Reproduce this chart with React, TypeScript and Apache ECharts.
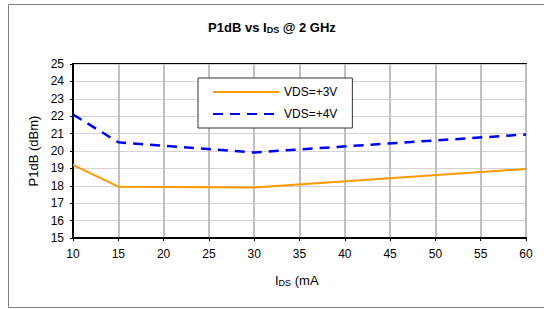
import React, { useEffect, useRef } from "react";
import * as echarts from "echarts";

const currents = [10, 15, 30, 60];
const vds3 = [19.2, 17.95, 17.9, 18.97];
const vds4 = [22.1, 20.5, 19.92, 20.95];
const seriesNames = ["VDS=+3V", "VDS=+4V"];

export default function App() {
  const ref = useRef<HTMLDivElement>(null);
  useEffect(() => {
    const chart = echarts.init(ref.current!, null, { renderer: "svg" });
    const font = "Liberation Sans, Arial, sans-serif";
    chart.setOption({
      animation: false,
      backgroundColor: "#fff",
      textStyle: { fontFamily: font },
      graphic: [
        {
          type: "rect",
          shape: { x: 8.5, y: 4.5, width: 560, height: 303 },
          style: { fill: "none", stroke: "#808080", lineWidth: 1 },
          z: 0,
        },
        {
          type: "text",
          left: "center",
          top: 19,
          style: {
            text: "{a|P1dB vs I}{b|DS}{a| @ 2 GHz}",
            rich: {
              a: { fontSize: 13, fontWeight: "bold", fontFamily: font, fill: "#000", verticalAlign: "bottom", lineHeight: 17 },
              b: { fontSize: 9, fontWeight: "bold", fontFamily: font, fill: "#000", verticalAlign: "bottom", lineHeight: 17, padding: [6, 0, 0, 0] },
            },
          },
        },
        {
          type: "text",
          left: 275,
          top: 272,
          style: {
            text: "{a|I}{b|DS}{a| (mA}",
            rich: {
              a: { fontSize: 13, fontFamily: font, fill: "#000", verticalAlign: "bottom", lineHeight: 17 },
              b: { fontSize: 9, fontFamily: font, fill: "#000", verticalAlign: "bottom", lineHeight: 17, padding: [6, 0, 0, 0] },
            },
          },
        },
      ],
      legend: {
        data: seriesNames,
        orient: "vertical",
        left: 198,
        top: 78,
        padding: [8, 15, 8, 14],
        itemGap: 10,
        itemWidth: 66,
        itemHeight: 12,
        itemStyle: { opacity: 0 },
        backgroundColor: "#fff",
        borderColor: "#333",
        borderWidth: 1,
        textStyle: { fontSize: 12, fontFamily: font, color: "#000" },
      },
      grid: {
        left: 73,
        right: 18,
        top: 64,
        bottom: 71,
        show: true,
        borderColor: "#000",
        borderWidth: 2,
        backgroundColor: "transparent",
      },
      xAxis: {
        type: "value",
        min: 10,
        max: 60,
        interval: 5,
        axisLine: { show: true, lineStyle: { color: "#000", width: 2 } },
        axisTick: { show: true, length: 3, lineStyle: { color: "#000", width: 1 } },
        axisLabel: { fontSize: 12, color: "#000", fontFamily: font, margin: 10 },
        splitLine: { show: true, lineStyle: { color: "#c0c0c0", width: 2 } },
      },
      yAxis: {
        type: "value",
        min: 15,
        max: 25,
        interval: 1,
        name: "P1dB (dBm)",
        nameLocation: "middle",
        nameGap: 33,
        nameTextStyle: { fontSize: 13, color: "#000", fontFamily: font },
        axisLine: { show: true, lineStyle: { color: "#000", width: 2 } },
        axisTick: { show: true, length: 3, lineStyle: { color: "#000", width: 1 } },
        axisLabel: { fontSize: 12, color: "#000", fontFamily: font, margin: 9 },
        splitLine: { show: true, lineStyle: { color: "#d4d4d4", width: 1 } },
      },
      series: [
        {
          name: seriesNames[0],
          type: "line",
          symbol: "none",
          data: currents.map((c, i) => [c, vds3[i]]),
          lineStyle: { color: "#FF9900", width: 2 },
          itemStyle: { color: "#FF9900" },
          z: 3,
        },
        {
          name: seriesNames[1],
          type: "line",
          symbol: "none",
          data: currents.map((c, i) => [c, vds4[i]]),
          lineStyle: { color: "#0000FF", width: 2.5, type: [10, 7] },
          itemStyle: { color: "#0000FF" },
          z: 3,
        },
      ],
    });
    return () => chart.dispose();
  }, []);
  return <div ref={ref} style={{ width: 544, height: 309, position: "absolute", left: 0, top: 0 }} />;
}
